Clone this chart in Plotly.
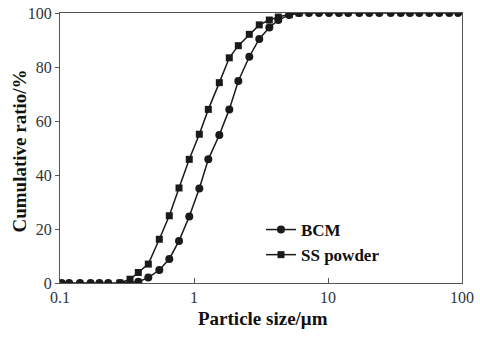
import plotly.graph_objects as go

# particle size (um) and cumulative ratio (%)
bcm_size = [0.103, 0.117, 0.141, 0.169, 0.197, 0.229, 0.280, 0.384, 0.456, 0.551,
            0.654, 0.773, 0.922, 1.096, 1.279, 1.545, 1.834, 2.142, 2.587, 3.07,
            3.648, 4.256, 5.14, 6.08, 7.21, 8.57, 10.17, 12.07, 14.17, 17.13,
            20.33, 24.15, 29.38, 34.89, 40.9, 48.0, 57.0, 67.7, 80.4, 93.8]
bcm_cum = [0, 0, 0, 0, 0, 0, 0, 0.5, 2.0, 4.8,
           8.9, 15.6, 24.6, 35.0, 45.8, 54.8, 64.3, 74.8, 83.8, 90.4,
           94.6, 97.4, 99.3, 100, 100, 100, 100, 100, 100, 100,
           100, 100, 100, 100, 100, 100, 100, 100, 100, 100]

ss_size = [0.280, 0.333, 0.384, 0.456, 0.551, 0.654, 0.773, 0.922, 1.096, 1.279,
           1.545, 1.834, 2.142, 2.587, 3.07, 3.648, 4.256, 5.14, 6.08]
ss_cum = [0, 1.4, 3.9, 7.0, 16.2, 24.9, 35.2, 45.8, 55.1, 64.3,
          74.2, 83.4, 87.9, 92.1, 95.6, 97.4, 98.5, 99.5, 100]

font = "Liberation Serif, Times New Roman, serif"
title_font = dict(family=font, size=19, color="#111111", weight="bold")

fig = go.Figure()
fig.add_trace(go.Scatter(
    x=ss_size, y=ss_cum, name="SS powder", mode="lines+markers", legendrank=2,
    line=dict(color="#1a1a1a", width=1.5),
    marker=dict(symbol="square", size=7, color="#1a1a1a")))
fig.add_trace(go.Scatter(
    x=bcm_size, y=bcm_cum, name="BCM", mode="lines+markers", legendrank=1,
    line=dict(color="#1a1a1a", width=1.5),
    marker=dict(symbol="circle", size=8, color="#1a1a1a")))

fig.update_layout(
    width=480, height=337,
    margin=dict(l=60, r=18, t=13, b=54),
    paper_bgcolor="white", plot_bgcolor="white",
    font=dict(family=font, size=16, color="#333333"),
    showlegend=True,
    legend=dict(x=0.5, y=0.15, xanchor="left", yanchor="middle",
                bgcolor="rgba(0,0,0,0)", tracegroupgap=0,
                font=dict(family=font, size=17, color="#111111", weight="bold"),
                itemwidth=30),
)
fig.update_xaxes(
    type="log", range=[-1, 2], tickvals=[0.1, 1, 10, 100],
    ticktext=["0.1", "1", "10", "100"],
    ticks="inside", ticklen=5, tickcolor="#555", automargin=False,
    showgrid=False, zeroline=False,
    showline=True, linecolor="#555", linewidth=1.2, mirror=True)
fig.update_yaxes(
    range=[0, 100], tickvals=[0, 20, 40, 60, 80, 100],
    ticks="outside", ticklen=4, tickcolor="#555", automargin=False,
    showgrid=False, zeroline=False,
    showline=True, linecolor="#555", linewidth=1.2, mirror=True)

# axis titles as annotations so they sit where the reference has them
fig.add_annotation(text="Cumulative ratio/%", xref="paper", yref="paper",
                   x=-0.1, y=0.49, textangle=-90, showarrow=False,
                   xanchor="center", yanchor="middle", font=title_font)
fig.add_annotation(text="Particle size/μm", xref="paper", yref="paper",
                   x=0.505, y=-0.13, showarrow=False,
                   xanchor="center", yanchor="middle", font=title_font)

# drop the page's default body margin so the figure sits at the window corner
fig.write_html("out.html", config={"displayModeBar": False},
               post_script="document.body.style.margin = '0';")
